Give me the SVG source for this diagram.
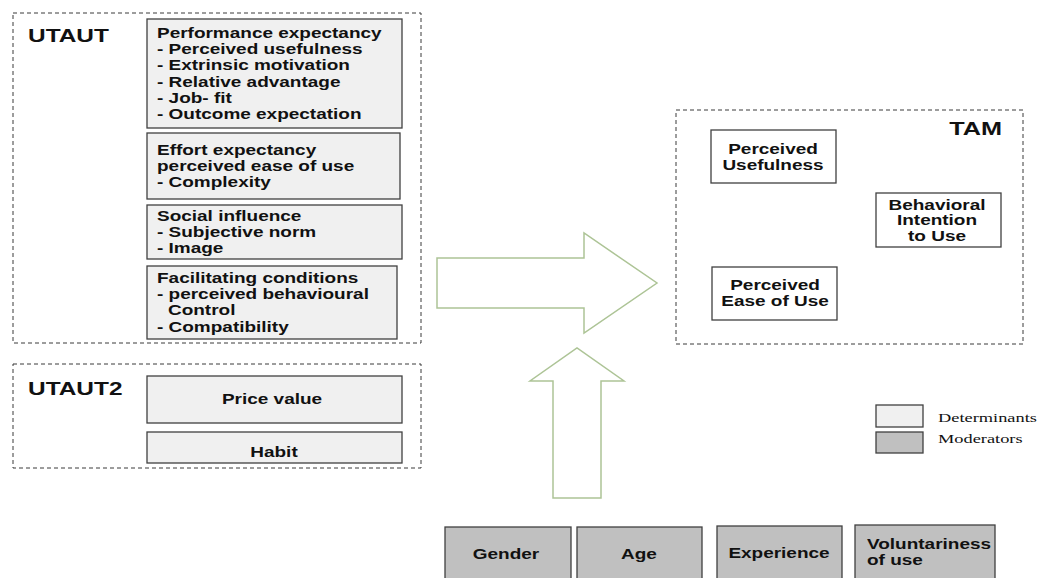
<svg xmlns="http://www.w3.org/2000/svg" width="1045" height="578" viewBox="0 0 1045 578">
<style>
.cont{fill:none;stroke:#3a3a3a;stroke-width:1;stroke-dasharray:4 3}
.det{fill:#f0f0f0;stroke:#404040;stroke-width:1.3}
.mod{fill:#c0c0c0;stroke:#404040;stroke-width:1.3}
.wb{fill:#ffffff;stroke:#404040;stroke-width:1.3}
.t{font-family:"Liberation Sans",Arial,sans-serif;font-weight:bold;font-size:14.5px;fill:#111}
.h{font-family:"Liberation Sans",Arial,sans-serif;font-weight:bold;font-size:18.5px;fill:#111}
.s{font-family:"Liberation Serif","Times New Roman",serif;font-size:13.5px;fill:#111}
.m{text-anchor:middle}
.arr{fill:#ffffff;stroke:#adc496;stroke-width:1.5;stroke-linejoin:miter}
</style>
<rect width="1045" height="578" fill="#ffffff"/>
<g id="utaut">
<rect class="cont" x="13" y="13" width="408" height="330"/>
<text class="h" transform="translate(28 42) scale(1.32 1)">UTAUT</text>
</g>
<g id="performance-expectancy">
<rect class="det" x="147" y="19" width="255" height="109"/>
<text class="t" transform="translate(157 38) scale(1.31 1)"><tspan x="0">Performance expectancy</tspan><tspan x="0" dy="16.2">- Perceived usefulness</tspan><tspan x="0" dy="16.2">- Extrinsic motivation</tspan><tspan x="0" dy="16.2">- Relative advantage</tspan><tspan x="0" dy="16.2">- Job- fit</tspan><tspan x="0" dy="16.2">- Outcome expectation</tspan></text>
</g>
<g id="effort-expectancy">
<rect class="det" x="147" y="133" width="253" height="66"/>
<text class="t" transform="translate(157 155) scale(1.31 1)"><tspan x="0">Effort expectancy</tspan><tspan x="0" dy="16.2">perceived ease of use</tspan><tspan x="0" dy="16.2">- Complexity</tspan></text>
</g>
<g id="social-influence">
<rect class="det" x="147" y="205" width="255" height="54"/>
<text class="t" transform="translate(157 221) scale(1.31 1)"><tspan x="0">Social influence</tspan><tspan x="0" dy="16">-  Subjective norm</tspan><tspan x="0" dy="16">- Image</tspan></text>
</g>
<g id="facilitating-conditions">
<rect class="det" x="147" y="266" width="250" height="73"/>
<text class="t" transform="translate(157 283) scale(1.31 1)"><tspan x="0">Facilitating conditions</tspan><tspan x="0" dy="16.2">- perceived behavioural</tspan><tspan x="8.4" dy="16.2">Control</tspan><tspan x="0" dy="16.2">- Compatibility</tspan></text>
</g>
<g id="utaut2">
<rect class="cont" x="13" y="364" width="408" height="104"/>
<text class="h" transform="translate(28 395) scale(1.32 1)">UTAUT2</text>
</g>
<g id="price-value">
<rect class="det" x="147" y="376" width="255" height="47"/>
<text class="t m" transform="translate(272 404) scale(1.31 1)">Price value</text>
</g>
<g id="habit">
<rect class="det" x="147" y="432" width="255" height="31"/>
<text class="t m" transform="translate(274 457) scale(1.31 1)">Habit</text>
</g>
<g id="tam">
<rect class="cont" x="676" y="110" width="347" height="234"/>
<text class="h" text-anchor="end" transform="translate(1002 135) scale(1.33 1)" style="font-size:19px">TAM</text>
</g>
<g id="perceived-usefulness">
<rect class="wb" x="711" y="130" width="125" height="53"/>
<text class="t m" transform="translate(773 154) scale(1.31 1)"><tspan x="0">Perceived</tspan><tspan x="0" dy="16">Usefulness</tspan></text>
</g>
<g id="behavioral-intention">
<rect class="wb" x="876" y="193" width="125" height="54"/>
<text class="t m" transform="translate(937 210) scale(1.31 1)"><tspan x="0">Behavioral</tspan><tspan x="0" dy="15.5">Intention</tspan><tspan x="0" dy="15.5">to Use</tspan></text>
</g>
<g id="perceived-ease">
<rect class="wb" x="712" y="267" width="125" height="53"/>
<text class="t m" transform="translate(775 290) scale(1.31 1)"><tspan x="0">Perceived</tspan><tspan x="0" dy="16">Ease of Use</tspan></text>
</g>
<g id="connectors">
<polygon class="arr" points="437,258 584,258 584,233 657,283 584,333 584,308 437,308"/>
<polygon class="arr" points="553,498 553,381 530,381 577,348 624,381 601,381 601,498"/>
</g>
<g id="legend">
<rect class="det" x="876" y="405" width="47" height="22"/>
<rect class="mod" x="876" y="432" width="47" height="21"/>
<text class="s" transform="translate(938 422) scale(1.36 1)">Determinants</text>
<text class="s" transform="translate(938 443) scale(1.36 1)">Moderators</text>
</g>
<g id="gender">
<rect class="mod" x="445" y="527" width="126" height="60"/>
<text class="t m" transform="translate(506 559) scale(1.31 1)">Gender</text>
</g>
<g id="age">
<rect class="mod" x="577" y="527" width="125" height="60"/>
<text class="t m" transform="translate(639 559) scale(1.31 1)">Age</text>
</g>
<g id="experience">
<rect class="mod" x="717" y="526" width="125" height="60"/>
<text class="t m" transform="translate(779 558) scale(1.31 1)">Experience</text>
</g>
<g id="voluntariness">
<rect class="mod" x="855" y="525" width="140" height="60"/>
<text class="t" transform="translate(867 549) scale(1.31 1)"><tspan x="0">Voluntariness</tspan><tspan x="0" dy="16">of use</tspan></text>
</g>
</svg>
